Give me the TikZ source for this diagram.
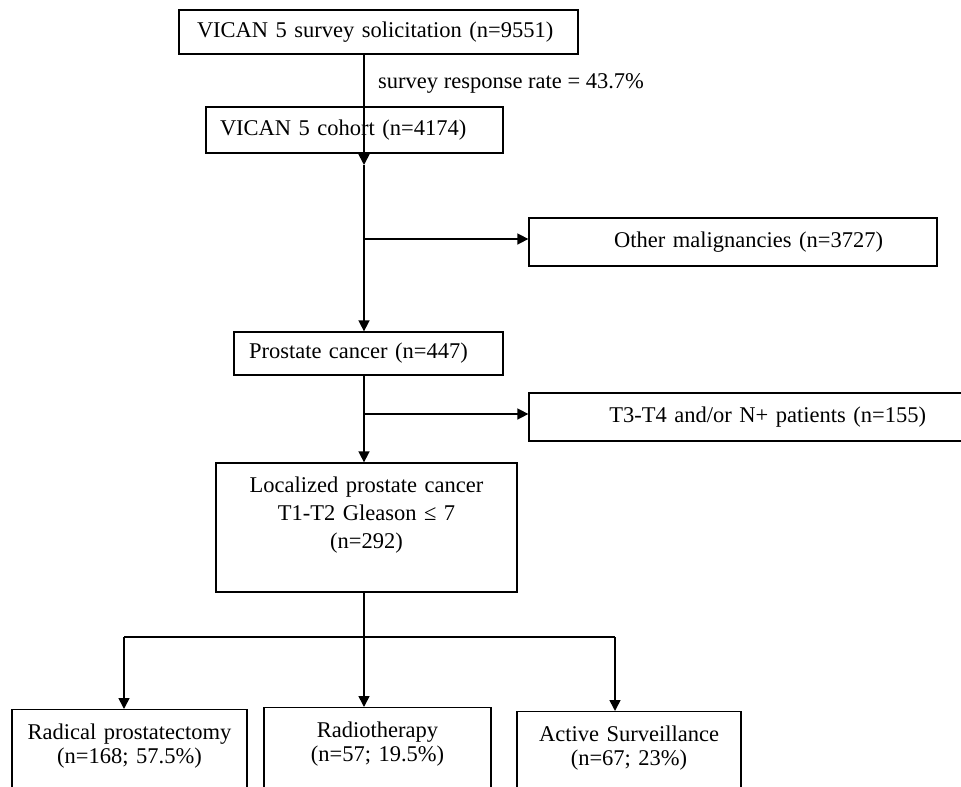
\documentclass[tikz,border=0pt]{standalone}
\usepackage{fontspec}
\setmainfont{Liberation Serif}
\usepackage{tikz}
\usetikzlibrary{arrows.meta}

\begin{document}
\begin{tikzpicture}[x=1pt, y=-1pt,
    font=\fontsize{22.5}{27}\selectfont,
    box/.style={draw, line width=1.3pt, rectangle, inner ysep=0pt},
    flow/.style={line width=1.6pt, -{Triangle[length=11pt, width=11pt]}},
    link/.style={line width=1.6pt}]
    % the page
    \clip (0,0) rectangle (961,787);

    % the survey boxes
    \node[box, align=left, text width=363pt, inner xsep=18pt, minimum height=44pt] (solic) at (378.5,32) {VICAN 5 survey solicitation (n=9551)};
    \node[anchor=west, inner sep=0pt] (rate) at (378,83) {survey response rate = 43.7\%};
    \node[box, align=left, text width=269pt, inner xsep=14pt, minimum height=46pt] (cohort) at (354.5,130) {VICAN 5 cohort (n=4174)};

    % the excluded patients
    \node[box, align=right, text width=300pt, inner xsep=54pt, minimum height=48pt] (other) at (733,242) {Other malignancies (n=3727)};
    \node[box, align=right, text width=348pt, inner xsep=49pt, minimum height=48pt] (tfour) at (752,417) {T3-T4 and/or N+ patients (n=155)};

    % the prostate boxes
    \node[box, align=left, text width=239pt, inner xsep=15pt, minimum height=43pt] (prost) at (368.5,353.5) {Prostate cancer (n=447)};
    \node[box, align=center, font=\fontsize{22.5}{28}\selectfont, text width=281pt, inner xsep=10pt, inner ysep=4pt, minimum height=129pt, text depth=86pt] (loc) at (366.5,527.5) {Localized prostate cancer\\T1-T2 Gleason ≤ 7\\(n=292)};

    % the treatments (boxes run off the page)
    \begin{scope}[font=\fontsize{22.5}{24}\selectfont]
    \node[box, anchor=north, align=center, text width=225pt, inner xsep=5pt, inner ysep=14pt, text depth=120pt] (radical) at (129.5,709) {Radical prostatectomy\\(n=168; 57.5\%)};
    \node[box, anchor=north, align=center, text width=217pt, inner xsep=5pt, inner ysep=14pt, text depth=120pt] (radio) at (377.5,707) {Radiotherapy\\(n=57; 19.5\%)};
    \node[box, anchor=north, align=center, text width=214pt, inner xsep=5pt, inner ysep=14pt, text depth=120pt] (surv) at (629,711) {Active Surveillance\\(n=67; 23\%)};
    \end{scope}

    % the main line
    \coordinate (c1) at (364,165);
    \coordinate (b1) at (364,239);
    \coordinate (b2) at (364,414);
    \coordinate (b3) at (364,637);
    \draw[flow] (solic.south -| c1) -- (c1);
    \draw[flow] (c1) -- (c1 |- prost.north);
    \draw[flow] (b1) -- (b1 -| other.west);
    \draw[flow] (prost.south -| b2) -- (b2 |- loc.north);
    \draw[flow] (b2) -- (b2 -| tfour.west);

    % the split into treatments
    \coordinate (t1) at (124,637);
    \coordinate (t3) at (615,637);
    \draw[link] (loc.south -| b3) -- (b3);
    \draw[link] (t1) -- (t3);
    \draw[flow] (t1) -- (t1 |- radical.north);
    \draw[flow] (b3) -- (b3 |- radio.north);
    \draw[flow] (t3) -- (t3 |- surv.north);
\end{tikzpicture}
\end{document}
